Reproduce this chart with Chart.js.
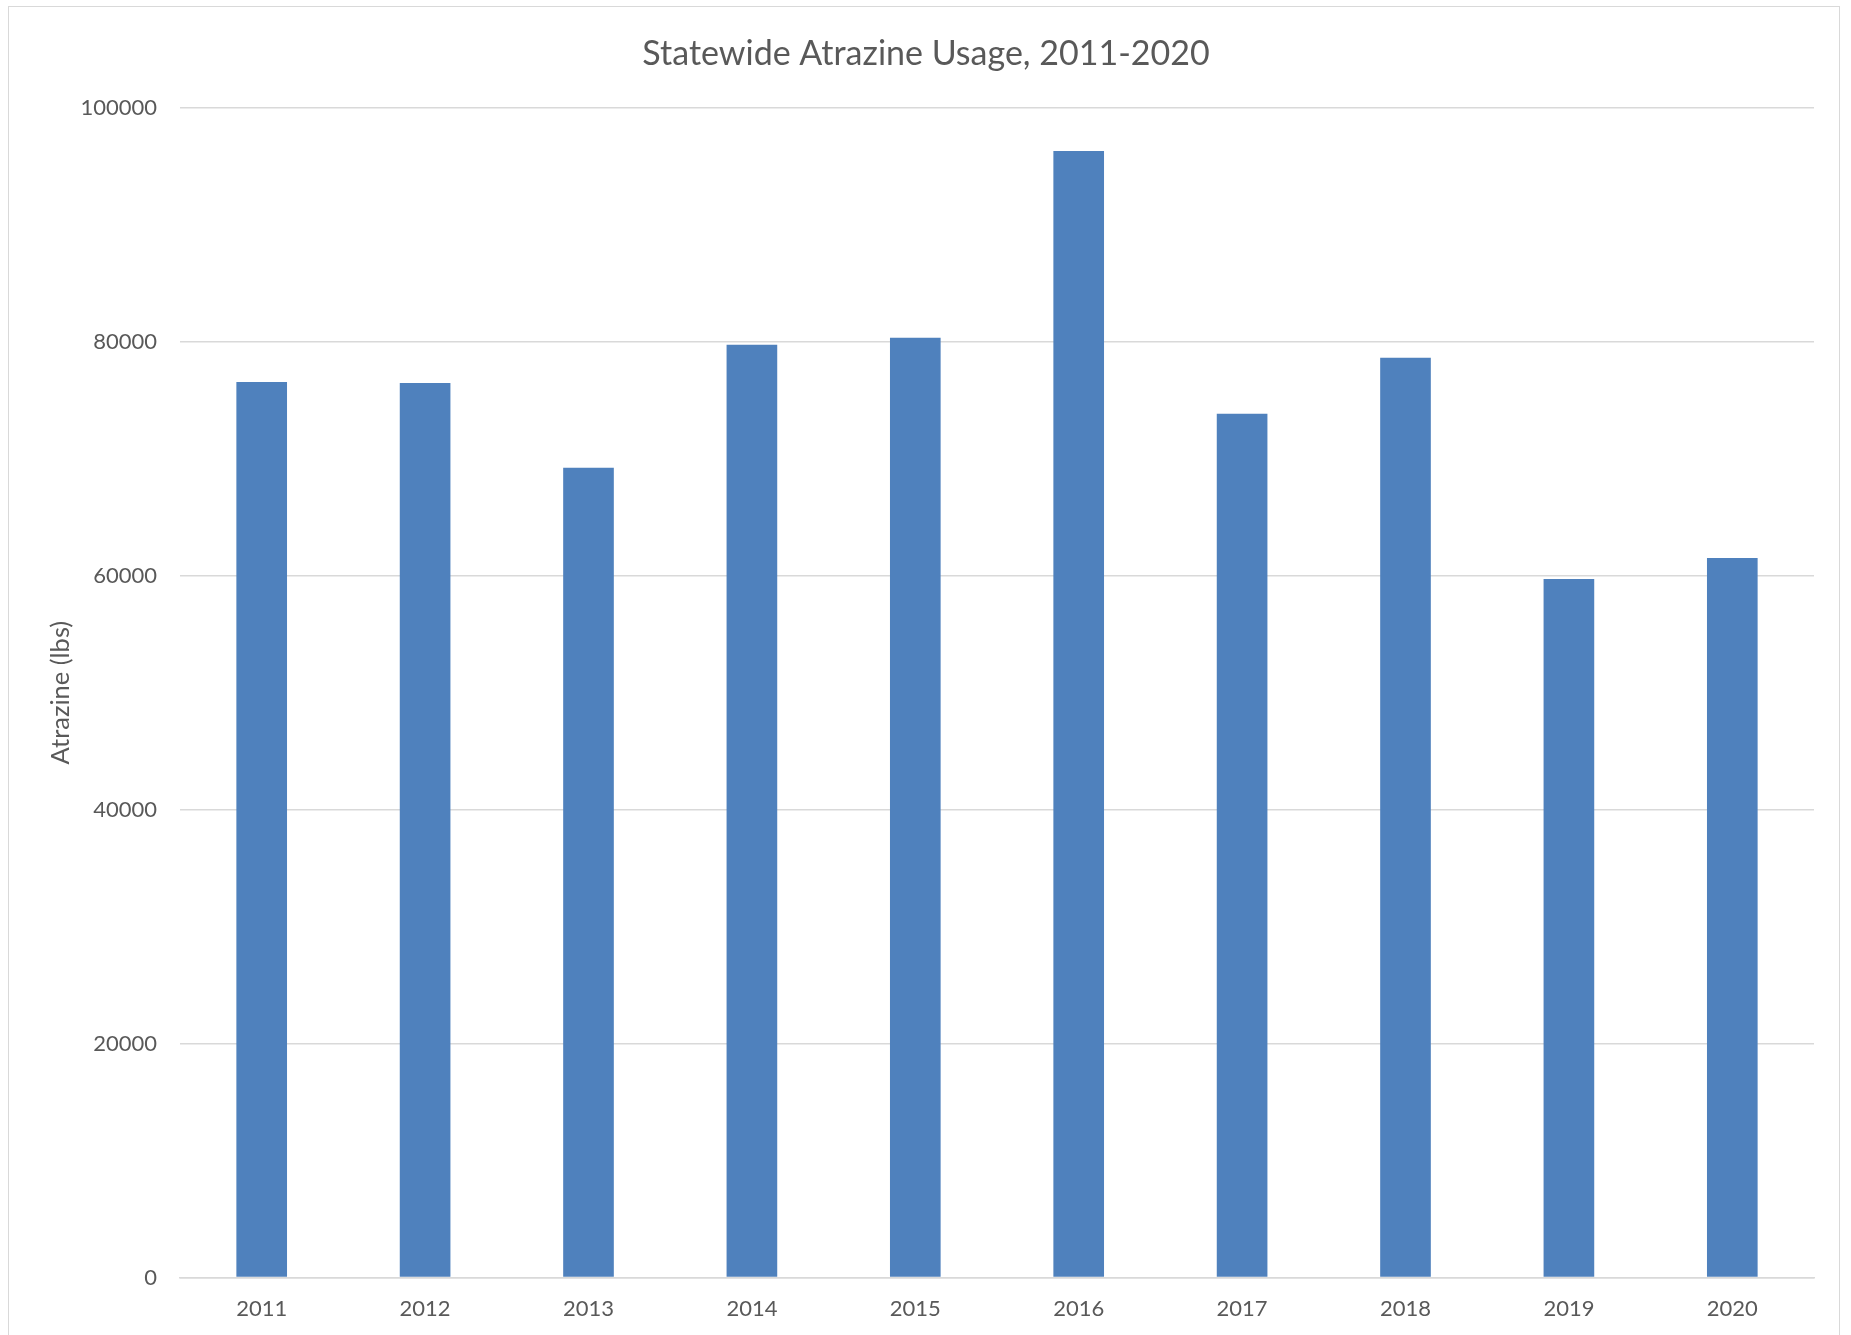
<!DOCTYPE html>
<html>
<head>
<meta charset="utf-8">
<title>Statewide Atrazine Usage, 2011-2020</title>
<script src="https://cdn.jsdelivr.net/npm/chart.js@4/dist/chart.umd.min.js"></script>
<style>
	html, body { margin: 0; padding: 0; background: #ffffff; }
	body { width: 1851px; height: 1335px; position: relative; overflow: hidden; }
	#frame {
		position: absolute; left: 8px; top: 6px; width: 1832px; height: 1340px;
		border: 1.5px solid #d9d9d9; box-sizing: border-box;
	}
	#chart { position: absolute; left: 0; top: 0; }
</style>
</head>
<body>
<div id="frame"></div>
<canvas id="chart" width="1851" height="1335"></canvas>
<script>
// values
var years = ['2011', '2012', '2013', '2014', '2015', '2016', '2017', '2018', '2019', '2020'];
var atrazineLbs = [76550, 76470, 69230, 79740, 80340, 96300, 73850, 78630, 59720, 61510];
var yTicks = [0, 20000, 40000, 60000, 80000, 100000];

var textColor = '#595959';
var gridColor = '#d9d9d9';
var fontFamily = 'Lato, "Open Sans", sans-serif';

var ctx = document.getElementById('chart');

// the title is centred on the whole frame, not only the padded layout box
var centerTitle = {
	id: 'centerTitle',
	afterLayout: function(chart) {
		if (chart.titleBlock) {
			chart.titleBlock.right = chart.width + 1;
		}
	}
};

new Chart(ctx, {
	type: 'bar',
	data: {
		labels: years,
		datasets: [{
			label: 'Atrazine (lbs)',
			data: atrazineLbs,
			backgroundColor: '#4f81bd',
			borderWidth: 0,
			barPercentage: 0.31,
			categoryPercentage: 1.0
		}]
	},
	plugins: [centerTitle],
	options: {
		responsive: false,
		animation: false,
		layout: {
			padding: { left: 0, right: 37, top: 0, bottom: 0 }
		},
		plugins: {
			legend: { display: false },
			tooltip: { enabled: false },
			title: {
				display: true,
				text: 'Statewide Atrazine Usage, 2011-2020',
				color: textColor,
				font: { family: fontFamily, size: 34, weight: 'normal' },
				padding: { top: 34, bottom: 33 }
			}
		},
		scales: {
			x: {
				grid: { display: false, drawTicks: false },
				border: { display: true, color: gridColor, width: 1.5 },
				ticks: {
					color: textColor,
					font: { family: fontFamily, size: 22 },
					padding: 18,
					maxRotation: 0
				},
				afterFit: function(scale) {
					scale.height = 57.5;
				}
			},
			y: {
				min: 0,
				max: 100000,
				afterBuildTicks: function(scale) {
					scale.ticks = yTicks.map(function(v) { return { value: v }; });
				},
				grid: { color: gridColor, lineWidth: 1.5, drawTicks: false },
				border: { display: false },
				ticks: {
					color: textColor,
					font: { family: fontFamily, size: 22 },
					padding: 23,
					callback: function(value) { return String(value); }
				},
				title: {
					display: true,
					text: 'Atrazine (lbs)',
					color: textColor,
					font: { family: fontFamily, size: 25.5 },
					padding: { top: 45, bottom: 0 }
				},
				afterFit: function(scale) {
					scale.width = 180;
				}
			}
		}
	}
});
</script>
</body>
</html>
